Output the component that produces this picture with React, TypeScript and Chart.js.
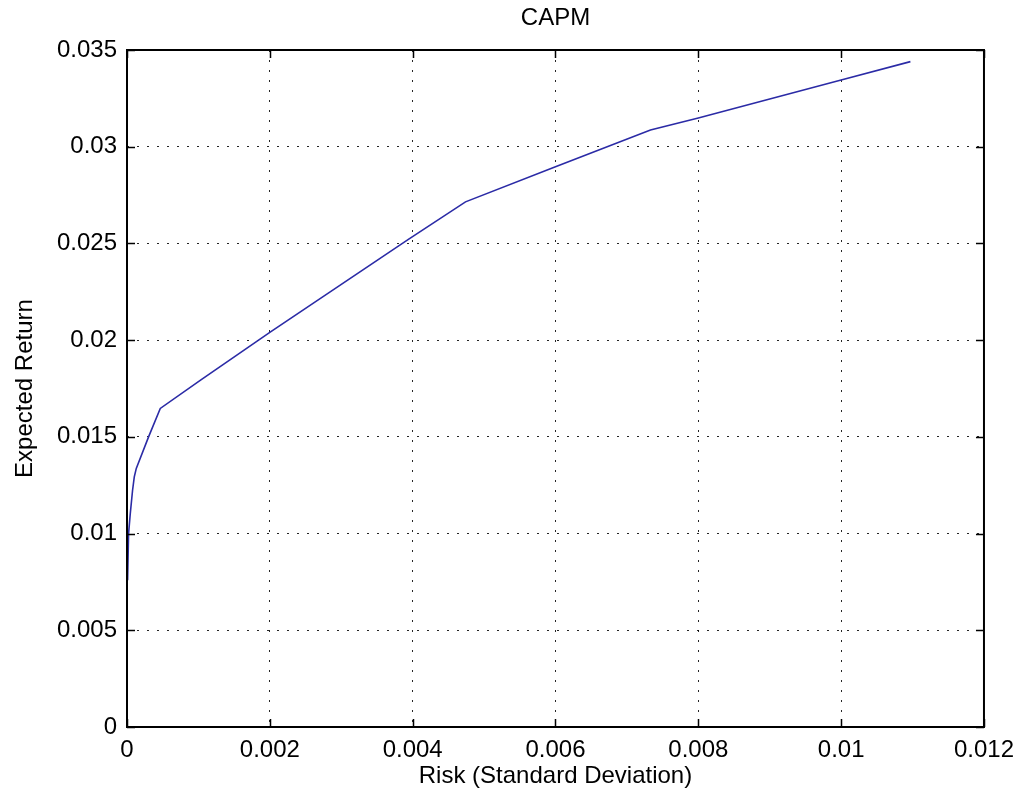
import React, { useEffect, useRef } from "react";
import { Chart, registerables } from "chart.js";

Chart.register(...registerables);

// Efficient frontier: risk (standard deviation) vs expected return
const risk = [
  0.0000084, 0.000022, 0.000046, 0.000078, 0.000102, 0.00013, 0.000302, 0.000466,
  0.00103, 0.00201, 0.00394, 0.00474, 0.006, 0.00733, 0.008, 0.01, 0.01097,
];
const expectedReturn = [
  0.00759, 0.01, 0.01104, 0.01224, 0.01293, 0.01337, 0.015, 0.01647,
  0.01793, 0.02043, 0.02521, 0.02715, 0.02896, 0.03086, 0.03148, 0.03345, 0.0344,
];

const xTicks = [0, 0.002, 0.004, 0.006, 0.008, 0.01, 0.012];
const xTickLabels = ["0", "0.002", "0.004", "0.006", "0.008", "0.01", "0.012"];
const yTicks = [0, 0.005, 0.01, 0.015, 0.02, 0.025, 0.03, 0.035];
const yTickLabels = ["0", "0.005", "0.01", "0.015", "0.02", "0.025", "0.03", "0.035"];

const FONT = "'Liberation Sans', Arial, sans-serif";
const W = 1023;
const H = 802;

// Box around the plot with inward tick marks on all four sides, plus the title
const boxPlugin = {
  id: "boxPlugin",
  afterDatasetsDraw(chart: any) {
    const { ctx, chartArea } = chart;
    const { left, right, top, bottom } = chartArea;
    const xs = chart.scales.x;
    const ys = chart.scales.y;
    const len = 8;
    ctx.save();
    ctx.strokeStyle = "#000";
    ctx.lineWidth = 1.5;
    ctx.beginPath();
    xTicks.forEach((v) => {
      const px = Math.round(xs.getPixelForValue(v)) + 0.5;
      ctx.moveTo(px, bottom);
      ctx.lineTo(px, bottom - len);
      ctx.moveTo(px, top);
      ctx.lineTo(px, top + len);
    });
    yTicks.forEach((v) => {
      const py = Math.round(ys.getPixelForValue(v)) + 0.5;
      ctx.moveTo(left, py);
      ctx.lineTo(left + len, py);
      ctx.moveTo(right, py);
      ctx.lineTo(right - len, py);
    });
    ctx.stroke();
    ctx.lineWidth = 2;
    ctx.strokeRect(left, top, right - left, bottom - top);

    ctx.fillStyle = "#000";
    ctx.font = `24px ${FONT}`;
    ctx.textAlign = "center";
    ctx.textBaseline = "middle";
    ctx.fillText("CAPM", (left + right) / 2, 18);
    ctx.restore();
  },
};

export default function App() {
  const ref = useRef<HTMLCanvasElement>(null);

  useEffect(() => {
    if (!ref.current) return;
    const points = risk.map((x, i) => ({ x, y: expectedReturn[i] }));
    const chart = new Chart(ref.current, {
      type: "line",
      data: {
        datasets: [
          {
            data: points,
            borderColor: "#2b2ba6",
            borderWidth: 1.6,
            pointRadius: 0,
            fill: false,
            tension: 0,
          },
        ],
      },
      options: {
        animation: false,
        responsive: false,
        devicePixelRatio: 1,
        layout: { padding: { top: 50, right: 39, bottom: 0, left: 0 } },
        plugins: {
          legend: { display: false },
          title: { display: false },
          tooltip: { enabled: false },
        },
        scales: {
          x: {
            type: "linear",
            min: 0,
            max: 0.012,
            afterFit: (s: any) => {
              s.height = 75;
            },
            afterBuildTicks: (s: any) => {
              s.ticks = xTicks.map((value) => ({ value }));
            },
            ticks: {
              padding: 9,
              color: "#000",
              font: { family: FONT, size: 24 },
              maxRotation: 0,
              autoSkip: false,
              callback: (v: any) => xTickLabels[xTicks.indexOf(Number(v))] ?? "",
            },
            grid: {
              color: "rgba(0,0,0,0.85)",
              lineWidth: 1,
              drawTicks: false,
            },
            border: { display: false, dash: [2, 8] },
            title: {
              display: true,
              text: "Risk (Standard Deviation)",
              color: "#000",
              font: { family: FONT, size: 24 },
              padding: { top: 11, bottom: 11 },
            },
          },
          y: {
            type: "linear",
            min: 0,
            max: 0.035,
            afterFit: (s: any) => {
              s.width = 127;
            },
            afterBuildTicks: (s: any) => {
              s.ticks = yTicks.map((value) => ({ value }));
            },
            ticks: {
              padding: 10,
              color: "#000",
              font: { family: FONT, size: 24 },
              autoSkip: false,
              callback: (v: any) => yTickLabels[yTicks.indexOf(Number(v))] ?? "",
            },
            grid: {
              color: "rgba(0,0,0,0.85)",
              lineWidth: 1,
              drawTicks: false,
            },
            border: { display: false, dash: [2, 8] },
            title: {
              display: true,
              text: "Expected Return",
              color: "#000",
              font: { family: FONT, size: 24 },
              padding: { top: 11, bottom: 11 },
            },
          },
        },
      },
      plugins: [boxPlugin],
    });
    return () => chart.destroy();
  }, []);

  return (
    <div style={{ position: "fixed", left: 0, top: 0, width: W, height: H, background: "#fff" }}>
      <canvas ref={ref} width={W} height={H} style={{ width: W, height: H, display: "block" }} />
    </div>
  );
}
